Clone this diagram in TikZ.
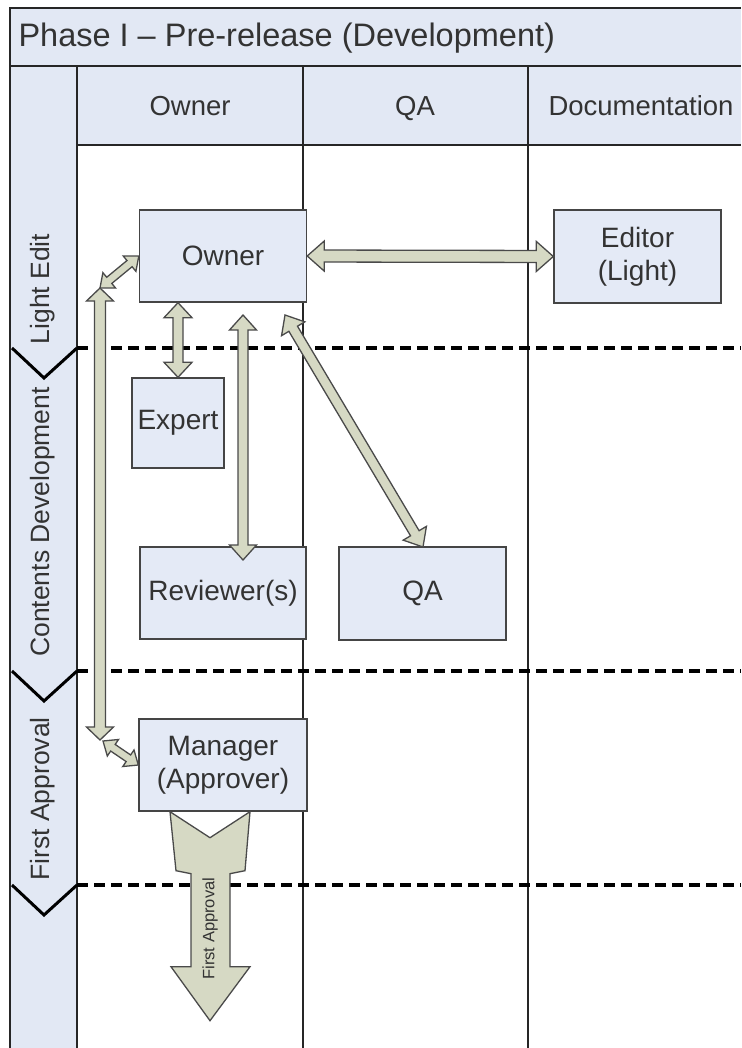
\documentclass[tikz,border=0pt]{standalone}
\usepackage{fontspec}
\setmainfont{Liberation Sans}
\usetikzlibrary{calc}
\definecolor{laneblue}{HTML}{E2E8F4}
\definecolor{boxblue}{HTML}{E4EAF6}
\definecolor{boxline}{HTML}{454545}
\definecolor{arrowfill}{HTML}{D6D9C4}
\definecolor{arrowline}{HTML}{4A4A4A}
\definecolor{txt}{HTML}{333333}
% fat double arrow: #1 start, #2 end, #3 shaft half width, #4 head half width, #5 head length, #6 id
\newcommand\fatdbl[6]{%
  \coordinate (#6p) at ($(#1)!#5!(#2)$);
  \coordinate (#6q) at ($(#2)!#5!(#1)$);
  \draw[fatarrow] (#1) -- ($(#6p)!#4!90:(#2)$) -- ($(#6p)!#3!90:(#2)$)
    -- ($(#6q)!#3!-90:(#1)$) -- ($(#6q)!#4!-90:(#1)$) -- (#2)
    -- ($(#6q)!#4!90:(#1)$) -- ($(#6q)!#3!90:(#1)$)
    -- ($(#6p)!#3!-90:(#2)$) -- ($(#6p)!#4!-90:(#2)$) -- cycle;}
\begin{document}
\begin{tikzpicture}[x=1pt,y=-1pt,
  gridline/.style={draw=black!85, line width=1.4pt},
  chev/.style={draw=black, line width=3pt, line join=miter},
  dashline/.style={draw=black, line width=3.5pt, dash pattern=on 11pt off 6pt},
  box/.style={draw=boxline, fill=boxblue, line width=1.4pt, text=txt, align=center,
    font=\fontsize{28}{33}\selectfont, inner sep=2pt},
  headtext/.style={text=txt, anchor=base, font=\fontsize{27.5}{32}\selectfont},
  lanetext/.style={text=txt, rotate=90, font=\fontsize{26.5}{30}\selectfont},
  fatarrow/.style={fill=arrowfill, draw=arrowline, line width=1.3pt, line join=miter}]
\useasboundingbox (0,0) rectangle (741,1048);
\fill[white] (0,0) rectangle (741,1048);
% backgrounds
\fill[laneblue] (10,8) rectangle (741,66);
\fill[laneblue] (10,66) rectangle (77,1048);
\fill[laneblue] (77,66) rectangle (741,145);
% grid lines
\draw[gridline] (10,1048) -- (10,8) -- (741,8);
\draw[gridline] (10,66) -- (741,66);
\draw[gridline] (77,145) -- (741,145);
\draw[gridline] (77,66) -- (77,1048);
\draw[gridline] (303,66) -- (303,1048);
\draw[gridline] (528,66) -- (528,1048);
% phase separators
\draw[dashline] (77,348) -- (741,348);
\draw[dashline] (77,671) -- (741,671);
\draw[dashline] (77,885) -- (741,885);
\draw[chev] (12,348) -- (44,378) -- (77,348);
\draw[chev] (12,671) -- (44,701) -- (77,671);
\draw[chev] (12,885) -- (44,915) -- (77,885);
% title and headers
\node[anchor=west, text=txt, font=\fontsize{32.5}{36}\selectfont] (title) at (15,38) {Phase I – Pre-release (Development)};
\node[headtext] (hOwner) at (190,116) {Owner};
\node[headtext] (hQA) at (415,116) {QA};
\node[headtext] (hDoc) at (641,116) {Documentation};
% lane labels
\node[lanetext] (lLight) at (43,289) {Light Edit};
\node[lanetext] (lContents) at (43,522) {Contents Development};
\node[lanetext] (lFirst) at (43,799) {First Approval};
% boxes
\node[box, minimum width=167pt, minimum height=92pt] (owner) at (223,256) {Owner};
\node[box, minimum width=167pt, minimum height=93pt] (editor) at (637.5,256.5) {Editor\\(Light)};
\node[box, minimum width=92pt, minimum height=90pt] (expert) at (178,423) {Expert};
\node[box, minimum width=166pt, minimum height=92pt] (reviewer) at (223,593) {Reviewer(s)};
\node[box, minimum width=167pt, minimum height=93pt] (qa) at (422.5,593.5) {QA};
\node[box, minimum width=168pt, minimum height=92pt] (mgr) at (223,765) {Manager\\(Approver)};
% connector end points
\coordinate (oe1) at (owner.east);
\coordinate (oe2) at (editor.west);
\coordinate (ox1) at (owner.south -| expert.north);
\coordinate (ox2) at (expert.north);
\coordinate (rv1) at (243,315);
\coordinate (rv2) at (243,560);
\coordinate (oq1) at (285,315);
\coordinate (oq2) at (423,547);
\coordinate (la1) at (100,288);
\coordinate (la2) at (100,740);
\coordinate (sa1) at ($(owner.west)+(0,0)$);
\coordinate (sb1) at (103,741);
\coordinate (sb2) at ($(mgr.west)+(0,0)$);
% arrows
\fatdbl{la1}{la2}{5.5pt}{13.5pt}{13pt}{A}
\fatdbl{oe1}{oe2}{6pt}{15pt}{17pt}{B}
\fatdbl{ox1}{ox2}{5pt}{14pt}{15pt}{C}
\fatdbl{rv1}{rv2}{5pt}{13.5pt}{15pt}{D}
\fatdbl{oq1}{oq2}{5pt}{13.5pt}{16pt}{E}
\fatdbl{la1}{sa1}{4pt}{10pt}{12pt}{F}
\fatdbl{sb1}{sb2}{4pt}{10pt}{12pt}{G}
% first approval outgoing arrow
\coordinate (fa) at ($(mgr.south)+(-13,0)$);
\draw[fatarrow] (fa) ++(-40,0) -- ++(6,59) -- ++(15,3) -- ++(0,93) -- ++(-20,0)
  -- ($(fa)+(0,209)$) -- ++(40,-54) -- ++(-20,0) -- ++(0,-93) -- ++(15,-3)
  -- ($(fa)+(40,0)$) -- ($(fa)+(0,26)$) -- cycle;
\node[text=txt, rotate=90, font=\fontsize{16.5}{18}\selectfont] (faLabel) at ($(fa)+(0,117)$) {First Approval};
\end{tikzpicture}
\end{document}
